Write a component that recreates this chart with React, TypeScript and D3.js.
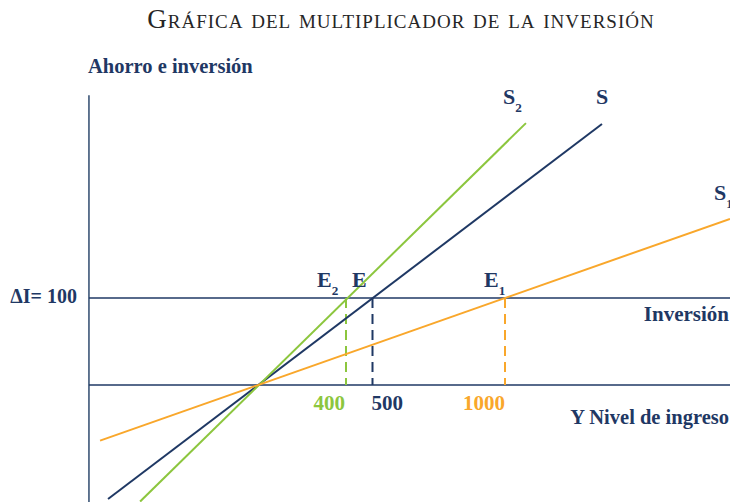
import React from "react";
import * as d3 from "d3";

// ---- data (income Y on x, savings/investment on y) ----
const xDomain = [0, 1000];
const yDomain = [0, 100];
const axisXValue = -570;
const axisYTop = 333;
const axisYBottom = -135;
const hLineLevels = [0, 100];
const hLineEnd = 1850;

const seriesNames = ["S", "S2", "S1"];
const seriesColors = ["#1f3864", "#8cc63e", "#f9a72b"];
// endpoints [x, y] of each savings line
const seriesStart = [[-498, -131], [-377, -134], [-528, -64]];
const seriesEnd = [[1366, 300], [1079, 301], [1849, 191]];

const equilibria = [500, 400, 1000];
const equilibriumLabels = ["500", "400", "1000"];
const investment = 100;

const W = 730;
const H = 502;

export default function App() {
  const x = d3.scaleLinear().domain(xDomain).range([240, 505]);
  const y = d3.scaleLinear().domain(yDomain).range([385, 298]);
  const navy = "#1f3864";
  const font = "'Liberation Serif', 'DejaVu Serif', serif";
  const line = d3.line<number[]>().x((d) => x(d[0])).y((d) => y(d[1]));

  const sub = (main: string, s: string | null, px: number, py: number, color: string, size: number) => (
    <text x={px} y={py} fill={color} fontFamily={font} fontWeight="bold" fontSize={size}>
      {main}
      {s ? (
        <tspan fontSize={size * 0.6} dy={size * 0.35}>{s}</tspan>
      ) : null}
    </text>
  );

  return (
    <svg width={W} height={H} style={{ position: "absolute", left: 0, top: 0, background: "#fff" }}>
      <text x={401} y={28} textAnchor="middle" fontFamily={font} fontSize={27} letterSpacing={1} fill="#262626" style={{ fontVariant: "small-caps" }}>
        Gráfica del multiplicador de la inversión
      </text>
      <text x={88} y={73} fontFamily={font} fontWeight="bold" fontSize={20.5} fill={navy}>
        Ahorro e inversión
      </text>

      {/* vertical axis */}
      <line x1={x(axisXValue)} x2={x(axisXValue)} y1={y(axisYTop)} y2={y(axisYBottom)} stroke="#2f4a6e" strokeWidth={1.5} />
      {hLineLevels.map((v) => (
        <line key={v} x1={x(axisXValue)} x2={x(hLineEnd)} y1={y(v)} y2={y(v)} stroke={navy} strokeWidth={1.5} />
      ))}

      {/* dashed drops */}
      {equilibria.map((e, i) => (
        <line key={e} x1={x(e)} x2={x(e)} y1={y(investment)} y2={y(0)} stroke={seriesColors[i]} strokeWidth={2} strokeDasharray="10,6" />
      ))}

      {/* savings lines */}
      {seriesNames.map((n, i) => (
        <path key={n} d={line([seriesStart[i], seriesEnd[i]]) || ""} fill="none" stroke={seriesColors[i]} strokeWidth={2} />
      ))}

      {/* tick labels */}
      <text x={x(equilibria[1]) - 1} y={410} textAnchor="end" fontFamily={font} fontWeight="bold" fontSize={21} fill={seriesColors[1]}>{equilibriumLabels[1]}</text>
      <text x={x(equilibria[0]) - 1} y={410} textAnchor="start" fontFamily={font} fontWeight="bold" fontSize={21} fill={seriesColors[0]}>{equilibriumLabels[0]}</text>
      <text x={x(equilibria[2])} y={410} textAnchor="end" fontFamily={font} fontWeight="bold" fontSize={21} fill={seriesColors[2]}>{equilibriumLabels[2]}</text>

      {/* equilibrium labels */}
      {sub("E", "2", 317, 287, navy, 22)}
      {sub("E", null, 352, 287, navy, 22)}
      {sub("E", "1", 484, 287, navy, 22)}

      {/* series labels */}
      {sub("S", "2", 503, 104, navy, 22)}
      {sub("S", null, 596, 104, navy, 22)}
      {sub("S", "1", 714, 200, navy, 22)}

      <text x={77} y={303} textAnchor="end" fontFamily={font} fontWeight="bold" fontSize={20} fill={navy}>ΔI= 100</text>
      <text x={729} y={321} textAnchor="end" fontFamily={font} fontWeight="bold" fontSize={21} fill={navy}>Inversión</text>
      <text x={729} y={424} textAnchor="end" fontFamily={font} fontWeight="bold" fontSize={20.5} fill={navy}>Y Nivel de ingreso</text>
    </svg>
  );
}
